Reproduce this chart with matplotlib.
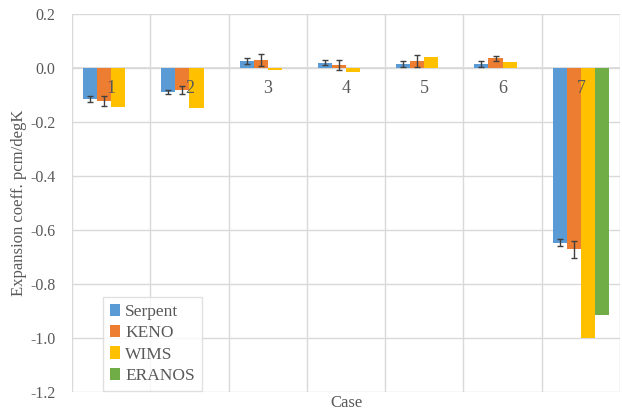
import numpy as np
import matplotlib.pyplot as plt

plt.rcParams['font.family'] = ['Liberation Serif', 'DejaVu Serif']

cases = ['1', '2', '3', '4', '5', '6', '7']
serpent = [-0.115, -0.088, 0.026, 0.020, 0.015, 0.015, -0.647]
serpent_err = [0.010, 0.008, 0.012, 0.010, 0.010, 0.010, 0.012]
keno = [-0.122, -0.081, 0.030, 0.010, 0.026, 0.036, -0.672]
keno_err = [0.020, 0.014, 0.022, 0.018, 0.022, 0.010, 0.030]
wims = [-0.143, -0.149, -0.007, -0.015, 0.040, 0.023, -1.000]
eranos = [0, 0, 0, 0, 0, 0, -0.914]
yticks = [-1.2, -1.0, -0.8, -0.6, -0.4, -0.2, 0.0, 0.2]

fig = plt.figure(figsize=(6.22, 4.16), dpi=100)
ax = fig.add_axes([0.1158, 0.0577, 0.881, 0.9086])

x = np.arange(len(cases))
w = 0.18
grey = '#595959'
errkw = dict(ecolor='#404040', elinewidth=1, capsize=2, capthick=1)

ax.bar(x - 1.5 * w, serpent, w, yerr=serpent_err, color='#5B9BD5', label='Serpent', error_kw=errkw, zorder=3)
ax.bar(x - 0.5 * w, keno, w, yerr=keno_err, color='#ED7D31', label='KENO', error_kw=errkw, zorder=3)
ax.bar(x + 0.5 * w, wims, w, color='#FFC000', label='WIMS', zorder=3)
ax.bar(x + 1.5 * w, eranos, w, color='#70AD47', label='ERANOS', zorder=3)

ax.set_xlim(-0.5, len(cases) - 0.5)
ax.set_ylim(-1.2, 0.2)
ax.set_yticks(yticks)
ax.set_yticklabels(['{:.1f}'.format(v) for v in yticks])
ax.tick_params(axis='y', length=0, labelsize=11.5, labelcolor=grey, pad=12)

# category labels sit just under the zero line
ax.set_xticks([])
for xi, c in zip(x, cases):
    ax.text(xi, -0.075, c, ha='center', va='center', fontsize=13, color=grey, zorder=4)

# grid
ax.grid(axis='y', color='#D9D9D9', lw=1, zorder=0)
for b in np.arange(-0.5, len(cases), 1.0):
    ax.axvline(b, color='#D9D9D9', lw=1, zorder=0)
ax.axhline(0, color='#D9D9D9', lw=1.2, zorder=1)
for s in ax.spines.values():
    s.set_visible(False)

ax.set_ylabel('Expansion coeff. pcm/degK', fontsize=12, color=grey, labelpad=2)
ax.set_xlabel('Case', fontsize=12, color=grey, labelpad=2)

leg = ax.legend(loc='lower left', bbox_to_anchor=(0.04, -0.02), fontsize=12.5, frameon=True,
                fancybox=False, edgecolor='#D9D9D9', handlelength=0.6, handleheight=0.7,
                handletextpad=0.3, labelspacing=0.3, borderpad=0.4)
for t in leg.get_texts():
    t.set_color(grey)

fig.savefig('out.png', dpi=100)
